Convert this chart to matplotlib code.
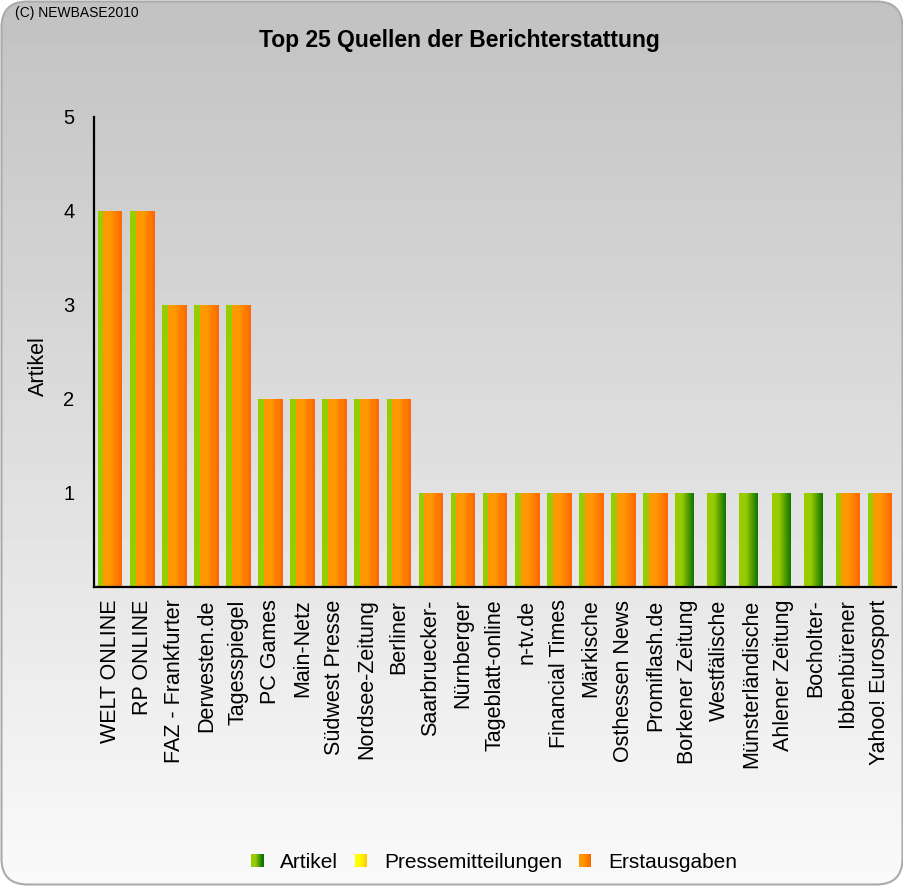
import numpy as np
import matplotlib
matplotlib.use("Agg")
import matplotlib.pyplot as plt
from matplotlib.colors import LinearSegmentedColormap
from matplotlib.patches import FancyBboxPatch, Rectangle
from matplotlib.legend_handler import HandlerBase

plt.rcParams['font.family'] = ['Liberation Sans', 'DejaVu Sans']

# Daten
quellen = ['WELT ONLINE', 'RP ONLINE', 'FAZ - Frankfurter', 'Derwesten.de', 'Tagesspiegel',
           'PC Games', 'Main-Netz', 'Südwest Presse', 'Nordsee-Zeitung', 'Berliner',
           'Saarbruecker-', 'Nürnberger', 'Tageblatt-online', 'n-tv.de', 'Financial Times',
           'Märkische', 'Osthessen News', 'Promiflash.de', 'Borkener Zeitung', 'Westfälische',
           'Münsterländische', 'Ahlener Zeitung', 'Bocholter-', 'Ibbenbürener', 'Yahoo! Eurosport']
artikel = [4, 4, 3, 3, 3, 2, 2, 2, 2, 2, 1, 1, 1, 1, 1, 1, 1, 1, 1, 1, 1, 1, 1, 1, 1]
pressemitteilungen = [0] * 25
erstausgaben = [4, 4, 3, 3, 3, 2, 2, 2, 2, 2, 1, 1, 1, 1, 1, 1, 1, 1, 0, 0, 0, 0, 0, 1, 1]
y_ticks = [1, 2, 3, 4, 5]

W, H = 904, 886


def grad_cmap(c1, c2):
    return LinearSegmentedColormap.from_list('g', [(0, c1), (0.35, c1), (1, c2)])


cm_gruen = grad_cmap('#99cc00', '#0f7500')
cm_gelb = grad_cmap('#ffff00', '#ffcc00')
cm_orange = grad_cmap('#ff9900', '#ff6600')

fig = plt.figure(figsize=(W / 100, H / 100), dpi=100)
fig.patch.set_facecolor('white')

# Hintergrund mit abgerundetem Rahmen und Verlauf
bg = fig.add_axes([0, 0, 1, 1], zorder=0)
bg.set_xlim(0, W)
bg.set_ylim(0, H)
bg.axis('off')
box = FancyBboxPatch((1.5, 1.5), W - 3, H - 3, boxstyle="round,pad=0,rounding_size=26",
                     facecolor='none', edgecolor='#ababab', lw=1.5, zorder=2)
bg.add_patch(box)
verlauf = np.linspace(0.98, 0.76, 256).reshape(-1, 1)
im = bg.imshow(verlauf, extent=[0, W, 0, H], cmap='gray', vmin=0, vmax=1,
               aspect='auto', origin='lower', zorder=1)
im.set_clip_path(box)

ax = fig.add_axes([94 / W, 299 / H, 802 / W, 470 / H], zorder=1)
ax.patch.set_alpha(0)

x = np.arange(len(quellen))
breite = 0.59
serien = [(artikel, -0.085, cm_gruen, 2),
          (pressemitteilungen, 0.0, cm_gelb, 3),
          (erstausgaben, 0.09, cm_orange, 4)]
g = np.linspace(0, 1, 64).reshape(1, -1)
for werte, off, cmap, z in serien:
    bars = ax.bar(x + off, werte, breite, color='none', edgecolor='none')
    for b in bars:
        if b.get_height() > 0:
            ax.imshow(g, extent=[b.get_x(), b.get_x() + b.get_width(), 0, b.get_height()],
                      cmap=cmap, aspect='auto', zorder=z)

ax.set_xlim(-0.5, len(quellen) - 0.5)
ax.set_ylim(0, 5)
ax.set_yticks(y_ticks)
ax.set_xticks(x)
ax.set_xticklabels(quellen, rotation=90, fontsize=15.5)
ax.tick_params(axis='x', length=0, pad=9)
ax.tick_params(axis='y', length=0, pad=14, labelsize=14.5)
for s in ['top', 'right']:
    ax.spines[s].set_visible(False)
for s in ['left', 'bottom']:
    ax.spines[s].set_linewidth(1.6)
    ax.spines[s].set_color('black')
    ax.spines[s].set_zorder(6)
ax.set_ylabel('Artikel', fontsize=15.5)
ax.yaxis.set_label_coords(-45 / 802, 0.47)

fig.text(0.508, 1 - 40 / H, 'Top 25 Quellen der Berichterstattung', ha='center', va='center',
         fontsize=16.5, fontweight='bold')
fig.text(15 / W, 1 - 13 / H, '(C) NEWBASE2010', ha='left', va='center', fontsize=10)


class GradHandler(HandlerBase):
    def __init__(self, cmap):
        super().__init__()
        self.cmap = cmap

    def create_artists(self, legend, orig_handle, xdescent, ydescent, width, height, fontsize, trans):
        n = 12
        arts = []
        for i in range(n):
            r = Rectangle((-xdescent + width * i / n, -ydescent), width / n + 0.05, height,
                          facecolor=self.cmap(i / (n - 1)), edgecolor='none', transform=trans)
            arts.append(r)
        return arts


handles = [Rectangle((0, 0), 1, 1) for _ in range(3)]
fig.legend(handles, ['Artikel', 'Pressemitteilungen', 'Erstausgaben'],
           handler_map={handles[0]: GradHandler(cm_gruen), handles[1]: GradHandler(cm_gelb),
                        handles[2]: GradHandler(cm_orange)},
           loc='center', bbox_to_anchor=(494 / W, 24 / H), ncol=3, frameon=False,
           fontsize=15, handlelength=0.6, handleheight=0.6, handletextpad=0.8, columnspacing=0.8)

fig.savefig('out.png', dpi=100)
